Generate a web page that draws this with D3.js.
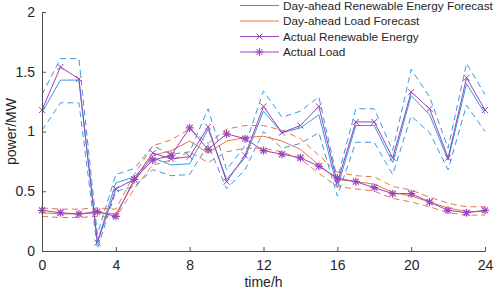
<!DOCTYPE html>
<html>
<head>
<meta charset="utf-8">
<script src="https://cdn.jsdelivr.net/npm/d3@7"></script>
<style>
  body { margin: 0; background: #fff; }
  text { font-family: "Liberation Sans", Arial, sans-serif; }
</style>
</head>
<body>
<div id="chart"></div>
<script>
var width = 498, height = 291
var margin = {left: 42, right: 13, top: 12, bottom: 40}

var hours = [0,1,2,3,4,5,6,7,8,9,10,11,12,13,14,15,16,17,18,19,20,21,22,23,24]
var xTicks = [0,4,8,12,16,20,24]
var yTicks = [0,0.5,1,1.5,2]

// renewable energy (MW)
var renewFc  = [1.16,1.43,1.43,0.08,0.57,0.62,0.78,0.72,0.73,1.02,0.6,0.78,1.17,0.99,1.03,1.14,0.53,1.05,1.05,0.74,1.3,1.14,0.76,1.4,1.15]
var renewUp  = [1.31,1.61,1.61,0.14,0.64,0.69,0.88,0.81,0.83,1.19,0.68,0.88,1.34,1.12,1.17,1.29,0.60,1.19,1.19,0.84,1.52,1.29,0.86,1.57,1.31]
var renewLo  = [1.01,1.24,1.24,0.02,0.50,0.54,0.68,0.63,0.64,0.89,0.52,0.68,1.0,0.86,0.90,0.99,0.46,0.91,0.91,0.64,1.13,0.99,0.68,1.22,1.0]
var renewAct = [1.18,1.54,1.44,0.07,0.52,0.60,0.82,0.77,0.79,1.04,0.58,0.80,1.21,0.99,1.05,1.21,0.57,1.08,1.08,0.78,1.33,1.19,0.78,1.45,1.18]

// load (MW)
var loadFc  = [0.32,0.31,0.31,0.32,0.31,0.58,0.80,0.84,0.92,0.82,0.92,0.95,0.96,0.92,0.85,0.72,0.60,0.58,0.56,0.49,0.46,0.41,0.36,0.33,0.33]
var loadUp  = [0.36,0.35,0.35,0.36,0.35,0.64,0.88,0.93,1.02,0.90,1.02,1.05,1.05,1.01,0.94,0.80,0.66,0.63,0.62,0.54,0.51,0.45,0.40,0.37,0.37]
var loadLo  = [0.29,0.28,0.28,0.29,0.28,0.52,0.72,0.76,0.83,0.74,0.83,0.86,0.86,0.83,0.77,0.65,0.54,0.52,0.50,0.44,0.41,0.37,0.32,0.30,0.30]
var loadAct = [0.34,0.32,0.31,0.33,0.29,0.60,0.76,0.80,1.03,0.85,0.98,0.94,0.84,0.81,0.78,0.71,0.61,0.58,0.53,0.48,0.48,0.41,0.34,0.32,0.34]

var blue = "#3a98de", orange = "#ea7640", purple = "#9a42bc"

var svg = d3.select("#chart").append("svg")
    .attr("width", width)
    .attr("height", height)

var x = d3.scaleLinear().domain([0, 24]).range([margin.left, width - margin.right])
var y = d3.scaleLinear().domain([0, 2]).range([height - margin.bottom, margin.top])

var line = d3.line()
  .x(function(d, i) { return x(hours[i]) })
  .y(function(d) { return y(d) })

function drawLine(vals, color, dashed) {
  svg.append("path")
    .datum(vals)
    .attr("d", line)
    .attr("fill", "none")
    .attr("stroke", color)
    .attr("stroke-width", 1)
    .attr("stroke-dasharray", dashed ? "6,4" : null)
}

// marker shapes
function crossMarker(g, s) {
  g.append("path").attr("d", "M" + (-s) + "," + (-s) + "L" + s + "," + s + "M" + (-s) + "," + s + "L" + s + "," + (-s))
}
function starMarker(g, s) {
  crossMarker(g, s * 0.75)
  g.append("path").attr("d", "M0," + (-s) + "L0," + s + "M" + (-s) + ",0L" + s + ",0")
}

function drawMarkers(vals, kind) {
  vals.forEach(function(v, i) {
    var g = svg.append("g")
      .attr("transform", "translate(" + x(hours[i]) + "," + y(v) + ")")
      .attr("stroke", purple)
      .attr("stroke-width", kind == "x" ? 1 : 1.2)
      .attr("fill", "none")
    if (kind == "x") crossMarker(g, 3)
    else starMarker(g, 4)
  })
}

drawLine(renewUp, blue, true)
drawLine(renewLo, blue, true)
drawLine(loadUp, orange, true)
drawLine(loadLo, orange, true)
drawLine(renewFc, blue, false)
drawLine(loadFc, orange, false)
drawLine(renewAct, purple, false)
drawMarkers(renewAct, "x")
drawLine(loadAct, purple, false)
drawMarkers(loadAct, "star")

// axes, ticks pointing inward
var xAxis = svg.append("g")
  .attr("transform", "translate(0," + y(0) + ")")
  .call(d3.axisBottom(x).tickValues(xTicks).tickSize(-4).tickSizeOuter(0).tickPadding(9))
var yAxis = svg.append("g")
  .attr("transform", "translate(" + x(0) + ",0)")
  .call(d3.axisLeft(y).tickValues(yTicks).tickSize(-4).tickSizeOuter(0).tickPadding(7)
    .tickFormat(function(d) { return d3.format("")(d) }))

;[xAxis, yAxis].forEach(function(a) {
  a.select(".domain").attr("stroke", "#4d4d4d")
  a.selectAll(".tick line").attr("stroke", "#4d4d4d")
  a.selectAll(".tick text").attr("fill", "#262626").style("font-size", "14px")
})

svg.append("text")
  .attr("x", (x(0) + x(24)) / 2)
  .attr("y", 287)
  .attr("text-anchor", "middle")
  .attr("fill", "#262626")
  .style("font-size", "14px")
  .text("time/h")

svg.append("text")
  .attr("transform", "translate(16," + y(1) + ") rotate(-90)")
  .attr("text-anchor", "middle")
  .attr("fill", "#262626")
  .style("font-size", "14px")
  .text("power/MW")

// legend
var legendItems = [
  {name: "Day-ahead Renewable Energy Forecast", color: blue, marker: null},
  {name: "Day-ahead Load Forecast", color: orange, marker: null},
  {name: "Actual Renewable Energy", color: purple, marker: "x"},
  {name: "Actual Load", color: purple, marker: "star"}
]
var legend = svg.append("g")
var legendTexts = []
legendItems.forEach(function(d, i) {
  var ly = 5.5 + i * 15.5
  legend.append("line")
    .attr("x1", 240).attr("x2", 279)
    .attr("y1", ly).attr("y2", ly)
    .attr("stroke", d.color).attr("stroke-width", 1)
  if (d.marker) {
    var g = legend.append("g")
      .attr("transform", "translate(259.5," + ly + ")")
      .attr("stroke", d.color).attr("fill", "none")
    if (d.marker == "x") crossMarker(g, 3)
    else starMarker(g, 4)
  }
  legendTexts.push(legend.append("text")
    .attr("x", 283).attr("y", ly)
    .attr("dy", "0.35em")
    .attr("fill", "#262626")
    .style("font-size", "13px")
    .text(d.name))
})
// fit the longest entry to the width it has in the original
var longest = legendTexts[0].node().getComputedTextLength()
var fs = 13 * 210 / longest
legendTexts.forEach(function(t) { t.style("font-size", fs + "px") })
</script>
</body>
</html>
